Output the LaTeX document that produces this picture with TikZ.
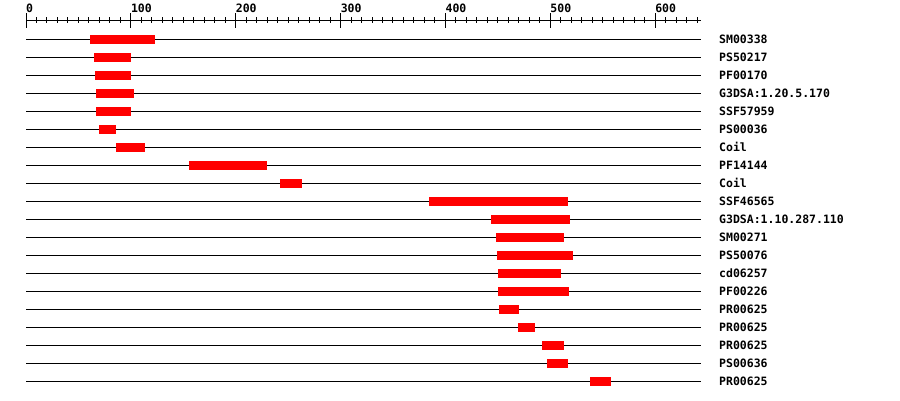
\documentclass[tikz,border=0pt]{standalone}
\usepackage{fontspec}
\newfontfamily\monofont{DejaVu Sans Mono}
\begin{document}
\begin{tikzpicture}[x=1pt,y=-1pt,
  track/.style={line width=1pt,black},
  hit/.style={fill=red,draw=none},
  axisline/.style={line width=1pt,black},
  lbl/.style={font=\monofont\bfseries\fontsize{11.5}{12}\selectfont,anchor=base west,inner sep=0pt}]
\useasboundingbox (0,0) rectangle (900,400);
\fill[white] (0,0) rectangle (900,400);
% ruler
\draw[axisline] (26,20) -- (701,20);
\foreach \i in {0,...,64}{
  \pgfmathsetmacro{\xx}{26+1.0485*10*\i}
  \pgfmathtruncatemacro{\m}{mod(\i,10)}
  \ifnum\m=0
    \draw[axisline] (\xx,13) -- (\xx,28);
    \pgfmathtruncatemacro{\v}{\i*10}
    \node[lbl] (n\i) at (\xx,12) {\v};
  \else
    \draw[axisline] (\xx,17) -- (\xx,23);
  \fi
}
% tracks
\foreach \lab/\a/\b [count=\k] in {
  SM00338/90/155, PS50217/94/131, PF00170/95/131, G3DSA:1.20.5.170/96/134,
  SSF57959/96/131, PS00036/99/116, Coil/116/145, PF14144/189/267,
  Coil/280/302, SSF46565/429/568, G3DSA:1.10.287.110/491/570,
  SM00271/496/564, PS50076/497/573, cd06257/498/561, PF00226/498/569,
  PR00625/499/519, PR00625/518/535, PR00625/542/564, PS00636/547/568,
  PR00625/590/611}{
  \pgfmathsetmacro{\yy}{21+18*\k}
  \coordinate (s\k) at (26,\yy);
  \coordinate (e\k) at (701,\yy);
  \draw[track] (s\k) -- (e\k);
  \fill[hit] (\a,\yy-4.5) rectangle (\b,\yy+4.5);
  \node[lbl] (t\k) at (719,\yy+4) {\lab};
}
\end{tikzpicture}
\end{document}
